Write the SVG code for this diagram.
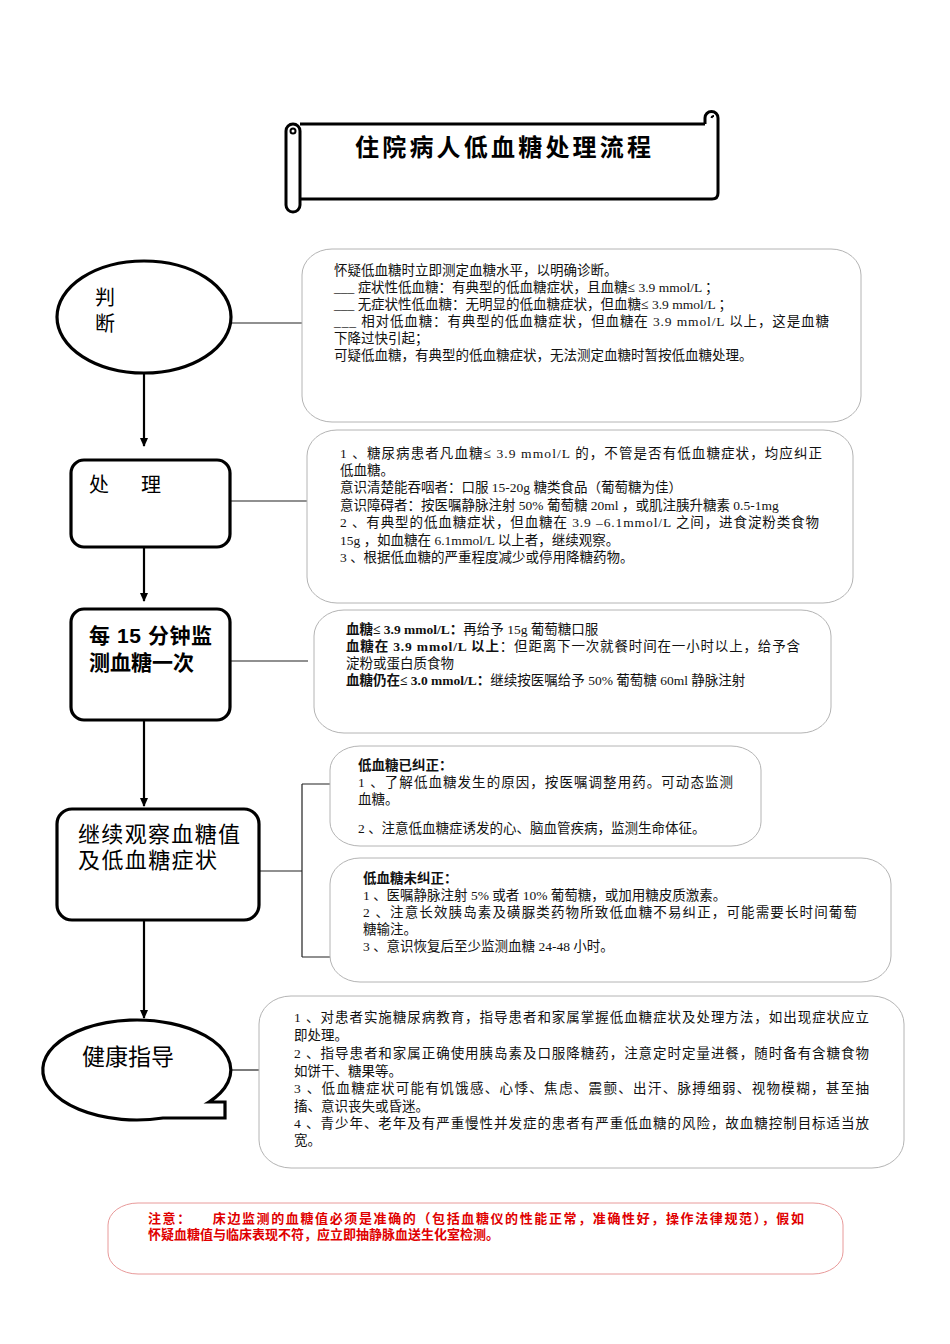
<svg xmlns="http://www.w3.org/2000/svg" width="950" height="1344" viewBox="0 0 950 1344">
<defs>
<marker id="ah" markerWidth="10" markerHeight="10" refX="8" refY="5" orient="auto" markerUnits="userSpaceOnUse">
<path d="M0,1 L9,5 L0,9 Z" fill="#000"/>
</marker>
<style>
.node{fill:#fff;stroke:#000;stroke-width:3.2}
.box{fill:#fff;stroke:#b4b4b4;stroke-width:1}
.lbl{font-family:"Liberation Sans","Noto Sans CJK SC",sans-serif;fill:#000}
.txt{font-family:"Liberation Serif","Noto Sans CJK SC",serif;font-size:13.5px;fill:#111}
.b{font-weight:bold}
.conn{stroke:#222;stroke-width:1.2;fill:none}
.arr{stroke:#000;stroke-width:2.2;fill:none;marker-end:url(#ah)}
.note{font-family:"Liberation Sans","Noto Sans CJK SC",sans-serif;font-size:13px;font-weight:bold;fill:#e00000}
</style>
</defs>
<rect width="950" height="1344" fill="#fff"/>

<g id="title">
<path d="M300,124 L705,124 M300,199 L712,199 Q718,199 718,193 L718,118" fill="none" stroke="#000" stroke-width="3"/>
<path d="M705,124 L705,118 A6.5,6.5 0 0 1 718,118" fill="none" stroke="#000" stroke-width="3"/>
<path d="M711.5,118 A2.5,2.5 0 0 1 714,116" fill="none" stroke="#000" stroke-width="2"/>
<path d="M300,131 L300,205 A7,7 0 0 1 286,205 L286,131 A7,7 0 0 1 300,131 Z" fill="#fff" stroke="#000" stroke-width="3"/>
<circle cx="293" cy="131" r="2.5" fill="none" stroke="#000" stroke-width="2"/>
<text class="lbl b" x="355" y="156" font-size="24" textLength="296" lengthAdjust="spacing">住院病人低血糖处理流程</text>
</g>

<g id="connectors">
<path class="arr" d="M144,373 L144,446"/>
<path class="arr" d="M144,547 L144,601"/>
<path class="arr" d="M144,720 L144,806"/>
<path class="arr" d="M144,920 L144,1018"/>
<path class="conn" d="M231,323 L302,323"/>
<path class="conn" d="M230,501 L307,501"/>
<path class="conn" d="M230,661 L308,661"/>
<path class="conn" d="M259,871 L302,871 M302,784 L302,957 M302,784 L330,784 M302,957 L330,957"/>
<path class="conn" d="M231,1070 L259,1070"/>
</g>

<g id="n-judge">
<ellipse class="node" cx="144" cy="317" rx="87" ry="56"/>
<text class="lbl" x="95" y="305" font-size="20">判</text>
<text class="lbl" x="95" y="331" font-size="20">断</text>
</g>

<g id="b-judge">
<rect class="box" x="302" y="249" width="559" height="173" rx="30" ry="26"/>
<text class="txt" x="334" y="275">怀疑低血糖时立即测定血糖水平，以明确诊断。</text>
<text class="txt" x="334" y="292">___ 症状性低血糖：有典型的低血糖症状，且血糖≤ 3.9 mmol/L ；</text>
<text class="txt" x="334" y="309">___ 无症状性低血糖：无明显的低血糖症状，但血糖≤ 3.9 mmol/L ；</text>
<text class="txt" x="334" y="326" textLength="495" lengthAdjust="spacing">___ 相对低血糖：有典型的低血糖症状，但血糖在 3.9 mmol/L 以上，这是血糖</text>
<text class="txt" x="334" y="343">下降过快引起；</text>
<text class="txt" x="334" y="360">可疑低血糖，有典型的低血糖症状，无法测定血糖时暂按低血糖处理。</text>
</g>

<g id="n-treat">
<rect class="node" x="71" y="460" width="159" height="87" rx="13"/>
<text class="lbl" x="89" y="492" font-size="20">处</text>
<text class="lbl" x="141" y="492" font-size="20">理</text>
</g>

<g id="b-treat">
<rect class="box" x="307" y="430" width="546" height="173" rx="30" ry="26"/>
<text class="txt" x="340" y="458" textLength="482" lengthAdjust="spacing">1 、糖尿病患者凡血糖≤ 3.9 mmol/L 的，不管是否有低血糖症状，均应纠正</text>
<text class="txt" x="340" y="475">低血糖。</text>
<text class="txt" x="340" y="492">意识清楚能吞咽者：口服 15-20g 糖类食品（葡萄糖为佳）</text>
<text class="txt" x="340" y="510">意识障碍者：按医嘱静脉注射 50% 葡萄糖 20ml ，或肌注胰升糖素 0.5-1mg</text>
<text class="txt" x="340" y="527" textLength="479" lengthAdjust="spacing">2 、有典型的低血糖症状，但血糖在 3.9 –6.1mmol/L 之间，进食淀粉类食物</text>
<text class="txt" x="340" y="545">15g ，如血糖在 6.1mmol/L 以上者，继续观察。</text>
<text class="txt" x="340" y="562">3 、根据低血糖的严重程度减少或停用降糖药物。</text>
</g>

<g id="n-monitor">
<rect class="node" x="71" y="609" width="159" height="111" rx="13"/>
<text class="lbl b" x="89" y="643" font-size="21" font-family="Liberation Serif,Noto Sans CJK SC,serif" textLength="123" lengthAdjust="spacing">每 15 分钟监</text>
<text class="lbl b" x="89" y="670" font-size="21">测血糖一次</text>
</g>

<g id="b-monitor">
<rect class="box" x="314" y="610" width="517" height="123" rx="30" ry="26"/>
<text class="txt" x="346" y="634"><tspan class="b">血糖≤ 3.9 mmol/L：</tspan>再给予 15g 葡萄糖口服</text>
<text class="txt" x="346" y="651" textLength="454" lengthAdjust="spacing"><tspan class="b">血糖在 3.9 mmol/L 以上</tspan>：但距离下一次就餐时间在一小时以上，给予含</text>
<text class="txt" x="346" y="668">淀粉或蛋白质食物</text>
<text class="txt" x="346" y="685"><tspan class="b">血糖仍在≤ 3.0 mmol/L：</tspan>继续按医嘱给予 50% 葡萄糖 60ml 静脉注射</text>
</g>

<g id="n-observe">
<rect class="node" x="57" y="809" width="202" height="111" rx="15"/>
<text class="lbl" x="78" y="842" font-size="22" textLength="162" lengthAdjust="spacing">继续观察血糖值</text>
<text class="lbl" x="78" y="868" font-size="22" textLength="139" lengthAdjust="spacing">及低血糖症状</text>
</g>

<g id="b-corrected">
<rect class="box" x="330" y="746" width="431" height="100" rx="30" ry="24"/>
<text class="txt b" x="358" y="770">低血糖已纠正：</text>
<text class="txt" x="358" y="787" textLength="375" lengthAdjust="spacing">1 、了解低血糖发生的原因，按医嘱调整用药。可动态监测</text>
<text class="txt" x="358" y="804">血糖。</text>
<text class="txt" x="358" y="833">2 、注意低血糖症诱发的心、脑血管疾病，监测生命体征。</text>
</g>

<g id="b-uncorrected">
<rect class="box" x="330" y="858" width="561" height="124" rx="30" ry="26"/>
<text class="txt b" x="363" y="883">低血糖未纠正：</text>
<text class="txt" x="363" y="900">1 、医嘱静脉注射 5% 或者 10% 葡萄糖，或加用糖皮质激素。</text>
<text class="txt" x="363" y="917" textLength="494" lengthAdjust="spacing">2 、注意长效胰岛素及磺脲类药物所致低血糖不易纠正，可能需要长时间葡萄</text>
<text class="txt" x="363" y="934">糖输注。</text>
<text class="txt" x="363" y="951">3 、意识恢复后至少监测血糖 24-48 小时。</text>
</g>

<g id="n-health">
<path class="node" d="M209,1102 L225,1102 L225,1118 L163,1118 A94,50 0 1 1 209,1102 Z"/>
<text class="lbl" x="82" y="1065" font-size="23">健康指导</text>
</g>

<g id="b-health">
<rect class="box" x="259" y="996" width="645" height="172" rx="32" ry="28"/>
<text class="txt" x="294" y="1022" textLength="575" lengthAdjust="spacing">1 、对患者实施糖尿病教育，指导患者和家属掌握低血糖症状及处理方法，如出现症状应立</text>
<text class="txt" x="294" y="1040">即处理。</text>
<text class="txt" x="294" y="1058" textLength="575" lengthAdjust="spacing">2 、指导患者和家属正确使用胰岛素及口服降糖药，注意定时定量进餐，随时备有含糖食物</text>
<text class="txt" x="294" y="1076">如饼干、糖果等。</text>
<text class="txt" x="294" y="1093" textLength="575" lengthAdjust="spacing">3 、低血糖症状可能有饥饿感、心悸、焦虑、震颤、出汗、脉搏细弱、视物模糊，甚至抽</text>
<text class="txt" x="294" y="1111">搐、意识丧失或昏迷。</text>
<text class="txt" x="294" y="1128" textLength="575" lengthAdjust="spacing">4 、青少年、老年及有严重慢性并发症的患者有严重低血糖的风险，故血糖控制目标适当放</text>
<text class="txt" x="294" y="1145">宽。</text>
</g>

<g id="b-note">
<rect x="108" y="1203" width="735" height="71" rx="30" ry="22" fill="#fff" stroke="#e89a9a" stroke-width="1"/>
<text class="note" x="148" y="1223" textLength="656" lengthAdjust="spacing" xml:space="preserve">注意：    床边监测的血糖值必须是准确的（包括血糖仪的性能正常，准确性好，操作法律规范），假如</text>
<text class="note" x="148" y="1239">怀疑血糖值与临床表现不符，应立即抽静脉血送生化室检测。</text>
</g>
</svg>
